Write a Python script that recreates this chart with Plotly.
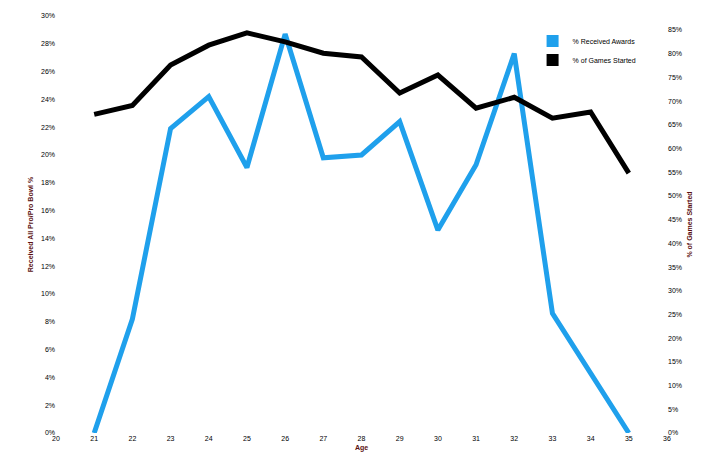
import plotly.graph_objects as go

ages = list(range(21, 36))
pct_awards = [0, 8.2, 21.9, 24.2, 19.1, 28.7, 19.8, 20.0, 22.4, 14.6, 19.3, 27.3, 8.6, 4.3, 0]
pct_started = [67.2, 69.1, 77.6, 81.8, 84.4, 82.5, 80.1, 79.3, 71.7, 75.5, 68.5, 70.8, 66.4, 67.7, 54.8]

blue = '#1fa0ec'
tickfont = dict(family='Arial', size=7, color='black')

fig = go.Figure()
fig.add_trace(go.Scatter(x=ages, y=[v / 100 for v in pct_awards], mode='lines',
                         line=dict(color=blue, width=5), showlegend=False))
fig.add_trace(go.Scatter(x=ages, y=[v / 100 for v in pct_started], mode='lines', yaxis='y2',
                         line=dict(color='black', width=5), showlegend=False))
# legend swatches
fig.add_trace(go.Scatter(x=[None], y=[None], mode='markers', name='% Received Awards',
                         marker=dict(symbol='square', size=9, color=blue)))
fig.add_trace(go.Scatter(x=[None], y=[None], mode='markers', name='% of Games Started',
                         marker=dict(symbol='square', size=9, color='black')))

fig.update_layout(
    width=705, height=476,
    margin=dict(l=48, r=46, t=8, b=51),
    plot_bgcolor='white', paper_bgcolor='white',
    font=dict(family='Arial', size=7, color='black'),
    xaxis=dict(range=[20, 36], dtick=1, showgrid=False, zeroline=False, tickfont=tickfont,
               automargin=False,
               title=dict(text='<b>Age</b>', font=dict(size=7, color='#5a1010'), standoff=4)),
    yaxis=dict(range=[0, 0.30], dtick=0.02, tickformat='.0%', showgrid=False, zeroline=False,
               tickfont=tickfont, automargin=False,
               title=dict(text='<b>Received All Pro/Pro Bowl %</b>', font=dict(size=7, color='#5a1010'),
                          standoff=6)),
    yaxis2=dict(range=[0, 0.8795], dtick=0.05, tickformat='.0%', overlaying='y', side='right',
                showgrid=False, zeroline=False, tickfont=tickfont, automargin=False,
                title=dict(text='<b>% of Games Started</b>', font=dict(size=7, color='#5a1010'),
                           standoff=6)),
    legend=dict(x=0.78, y=0.975, xanchor='left', yanchor='top', font=dict(size=7),
                bgcolor='rgba(0,0,0,0)', tracegroupgap=0, itemsizing='constant'),
)

fig.write_html('out.html')
